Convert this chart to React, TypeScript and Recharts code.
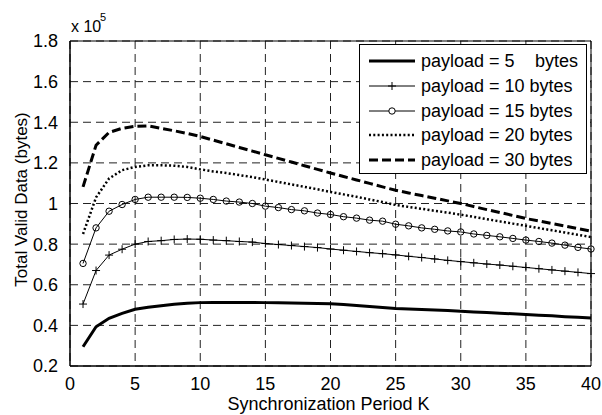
import React from 'react';
import {
  LineChart,
  Line,
  XAxis,
  YAxis,
  CartesianGrid,
  Legend,
  ReferenceArea,
} from 'recharts';

// synchronization period K
const periods = [
  1, 2, 3, 4, 5, 6, 7, 8, 9, 10, 11, 12, 13, 14, 15, 16, 17, 18, 19, 20,
  21, 22, 23, 24, 25, 26, 27, 28, 29, 30, 31, 32, 33, 34, 35, 36, 37, 38, 39, 40,
];

// total valid data, in units of 10^5 bytes
const payload5 = [
  0.295, 0.393, 0.435, 0.459, 0.479, 0.489, 0.497, 0.504, 0.509, 0.512,
  0.513, 0.513, 0.513, 0.513, 0.512, 0.511, 0.51, 0.509, 0.508, 0.507,
  0.503, 0.498, 0.493, 0.488, 0.483, 0.481, 0.478, 0.476, 0.473, 0.469,
  0.466, 0.463, 0.46, 0.457, 0.454, 0.45, 0.447, 0.443, 0.44, 0.436,
];
const payload10 = [
  0.505, 0.67, 0.746, 0.775, 0.8, 0.813, 0.817, 0.823, 0.825, 0.824,
  0.82, 0.817, 0.813, 0.81, 0.803, 0.798, 0.793, 0.788, 0.783, 0.776,
  0.77, 0.764, 0.758, 0.753, 0.747, 0.74, 0.734, 0.727, 0.72, 0.714,
  0.708, 0.702, 0.697, 0.691, 0.685, 0.679, 0.673, 0.667, 0.661, 0.655,
];
const payload15 = [
  0.705, 0.88, 0.962, 0.995, 1.02, 1.031, 1.031, 1.031, 1.03, 1.026,
  1.02, 1.012, 1.007, 1.0, 0.987, 0.98, 0.97, 0.964, 0.953, 0.946,
  0.935, 0.928, 0.918, 0.913, 0.898, 0.89, 0.88, 0.873, 0.865, 0.86,
  0.85, 0.843, 0.836, 0.828, 0.82, 0.813, 0.805, 0.795, 0.784, 0.776,
];
const payload20 = [
  0.85, 1.03, 1.123, 1.164, 1.18, 1.188, 1.188, 1.186, 1.18, 1.168,
  1.158, 1.15, 1.14, 1.13, 1.118, 1.106, 1.094, 1.082, 1.07, 1.057,
  1.045, 1.033, 1.02, 1.007, 0.993, 0.983, 0.974, 0.964, 0.955, 0.945,
  0.934, 0.923, 0.912, 0.901, 0.89, 0.879, 0.868, 0.857, 0.846, 0.835,
];
const payload30 = [
  1.082, 1.287, 1.35, 1.37, 1.38, 1.382, 1.37, 1.358, 1.345, 1.33,
  1.312, 1.294, 1.276, 1.258, 1.24, 1.222, 1.204, 1.186, 1.168, 1.15,
  1.133, 1.116, 1.099, 1.082, 1.065, 1.052, 1.039, 1.026, 1.013, 1.0,
  0.985, 0.97, 0.956, 0.941, 0.926, 0.914, 0.901, 0.889, 0.876, 0.864,
];

const xTicks = [0, 5, 10, 15, 20, 25, 30, 35, 40];
const yTicks = [0.2, 0.4, 0.6, 0.8, 1, 1.2, 1.4, 1.6, 1.8];
const seriesNames = [
  'payload = 5',
  'payload = 10 bytes',
  'payload = 15 bytes',
  'payload = 20 bytes',
  'payload = 30 bytes',
];

const data = periods.map((k, i) => ({
  k,
  p5: payload5[i],
  p10: payload10[i],
  p15: payload15[i],
  p20: payload20[i],
  p30: payload30[i],
}));

const FONT = '"Liberation Sans", Arial, Helvetica, sans-serif';

const PlusDot = (props: any) => {
  const { cx, cy, index } = props;
  if (cx == null || cy == null) return <g key={`plus-${index}`} />;
  return (
    <path
      key={`plus-${index}`}
      d={`M${cx - 4},${cy}h8M${cx},${cy - 4}v8`}
      stroke="#000"
      strokeWidth={1}
      fill="none"
    />
  );
};

const YTitle = (props: any) => {
  const vb = props.viewBox || { x: 0, y: 41, width: 70, height: 325 };
  const cx = vb.x + 21;
  const cy = vb.y + vb.height / 2 - 4;
  return (
    <g fontFamily={FONT} fill="#000">
      <text
        x={cx}
        y={cy}
        textAnchor="middle"
        dominantBaseline="central"
        fontSize={17}
        transform={`rotate(-90, ${cx}, ${cy})`}
      >
        Total Valid Data (bytes)
      </text>
      <text x={vb.x + 71} y={32} fontSize={16}>
        x 10
      </text>
      <text x={vb.x + 100} y={21} fontSize={11}>
        5
      </text>
    </g>
  );
};

const XTitle = (props: any) => {
  const vb = props.viewBox || { x: 70, y: 366, width: 521, height: 49 };
  return (
    <text
      x={vb.x + vb.width / 2 - 2}
      y={vb.y + 44}
      textAnchor="middle"
      fontFamily={FONT}
      fontSize={18}
      fill="#000"
    >
      Synchronization Period K
    </text>
  );
};

const LegendBox = () => {
  const rowY = [17, 42, 67, 91, 116];
  return (
    <svg width={228} height={130} style={{ display: 'block' }}>
      <rect x={0.5} y={0.5} width={227} height={129} fill="#fff" stroke="#000" strokeWidth={1} />
      <g fontFamily={FONT} fontSize={18} fill="#000">
        {/* 5 bytes */}
        <line x1={10} x2={56} y1={rowY[0]} y2={rowY[0]} stroke="#000" strokeWidth={3} />
        {/* 10 bytes */}
        <line x1={10} x2={56} y1={rowY[1]} y2={rowY[1]} stroke="#000" strokeWidth={1} />
        <path d={`M29,${rowY[1]}h8M33,${rowY[1] - 4}v8`} stroke="#000" strokeWidth={1} />
        {/* 15 bytes */}
        <line x1={10} x2={56} y1={rowY[2]} y2={rowY[2]} stroke="#000" strokeWidth={1} />
        <circle cx={33} cy={rowY[2]} r={3.2} fill="#fff" stroke="#000" strokeWidth={1} />
        {/* 20 bytes */}
        <line x1={10} x2={56} y1={rowY[3]} y2={rowY[3]} stroke="#000" strokeWidth={2.5} strokeDasharray="2 2.3" />
        {/* 30 bytes */}
        <line x1={10} x2={56} y1={rowY[4]} y2={rowY[4]} stroke="#000" strokeWidth={3} strokeDasharray="9 4" />
        {seriesNames.map((name, i) => (
          <text key={name} x={62} y={rowY[i]} dominantBaseline="central">
            {name}
          </text>
        ))}
        <text x={219} y={rowY[0]} textAnchor="end" dominantBaseline="central">
          bytes
        </text>
      </g>
    </svg>
  );
};

export default function App() {
  return (
    <div style={{ position: 'absolute', left: 0, top: 0, width: 602, height: 415, background: '#fff' }}>
      <LineChart
        width={602}
        height={415}
        data={data}
        margin={{ top: 41, right: 11, bottom: 0, left: 0 }}
        style={{ fontFamily: FONT }}
      >
        <CartesianGrid stroke="#222" strokeDasharray="8 5" strokeWidth={1} />
        <XAxis
          dataKey="k"
          type="number"
          domain={[0, 40]}
          ticks={xTicks}
          height={49}
          tickLine={false}
          tickMargin={5}
          axisLine={{ stroke: '#000' }}
          tick={{ fill: '#000', fontSize: 18 }}
          interval={0}
          label={<XTitle />}
        />
        <YAxis
          type="number"
          domain={[0.2, 1.8]}
          ticks={yTicks}
          width={70}
          tickLine={false}
          tickMargin={6}
          axisLine={{ stroke: '#000' }}
          tick={{ fill: '#000', fontSize: 18 }}
          interval={0}
          allowDataOverflow
          label={<YTitle />}
        />
        <ReferenceArea
          x1={0}
          x2={40}
          y1={0.2}
          y2={1.8}
          fill="none"
          stroke="#000"
          strokeWidth={1}
          ifOverflow="visible"
        />
        <Line
          dataKey="p5"
          name={seriesNames[0]}
          stroke="#000"
          strokeWidth={3}
          dot={false}
          isAnimationActive={false}
        />
        <Line
          dataKey="p10"
          name={seriesNames[1]}
          stroke="#000"
          strokeWidth={1}
          dot={PlusDot}
          isAnimationActive={false}
        />
        <Line
          dataKey="p15"
          name={seriesNames[2]}
          stroke="#000"
          strokeWidth={1}
          dot={{ r: 3.2, fill: 'none', stroke: '#000', strokeWidth: 1 }}
          isAnimationActive={false}
        />
        <Line
          dataKey="p20"
          name={seriesNames[3]}
          stroke="#000"
          strokeWidth={2.5}
          strokeDasharray="2 2.3"
          dot={false}
          isAnimationActive={false}
        />
        <Line
          dataKey="p30"
          name={seriesNames[4]}
          stroke="#000"
          strokeWidth={3}
          strokeDasharray="9 4"
          dot={false}
          isAnimationActive={false}
        />
        <Legend
          layout="vertical"
          align="center"
          verticalAlign="middle"
          content={<LegendBox />}
          wrapperStyle={{ position: 'absolute', left: 359, top: 44, width: 228, height: 130 }}
        />
      </LineChart>
    </div>
  );
}
